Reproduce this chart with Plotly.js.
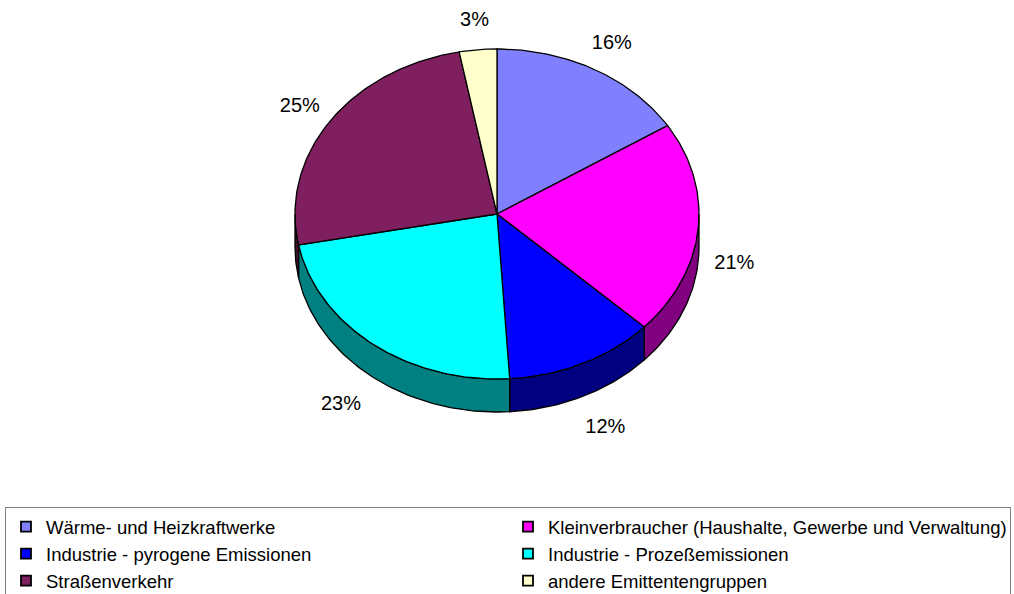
<!DOCTYPE html>
<html><head><meta charset="utf-8">
<script src="https://cdn.plot.ly/plotly-3.0.1.min.js"></script>
<style>html,body{margin:0;padding:0;background:#fff}#chart{width:1014px;height:594px}</style>
</head><body><div id="chart"></div>
<script>
// Data
const categories = ["Wärme- und Heizkraftwerke","Kleinverbraucher (Haushalte, Gewerbe und Verwaltung)","Industrie - pyrogene Emissionen","Industrie - Prozeßemissionen","Straßenverkehr","andere Emittentengruppen"];
const shares = [16, 21, 12, 23, 25, 3];

// Styles
const topColors = ["#8080FF","#FF00FF","#0000FF","#00FFFF","#7F1F5F","#FFFFCC"];
const sideColors = ["#4040A0","#800080","#000080","#008080","#40102F","#A0A080"];
const cx = 497, cy = 214, rx = 202, ry = 165, depth = 33;
const FONT = "Arial, 'Liberation Sans', sans-serif";

const total = shares.reduce((a,b)=>a+b,0);
function pt(deg, dz){ const r = deg*Math.PI/180; return [cx + rx*Math.sin(r), cy - ry*Math.cos(r) + (dz||0)]; }

const traces = [];
let start = 0;
const spans = shares.map(v => { const a = start; start += v/total*360; return [a, start]; });

// side walls (visible front half: 90..270 deg)
spans.forEach((s,i)=>{
  const a = Math.max(s[0], 90), b = Math.min(s[1], 270);
  if (b <= a) return;
  const xs=[], ys=[];
  const n = Math.max(2, Math.ceil((b-a)));
  for (let k=0;k<=n;k++){ const p = pt(a+(b-a)*k/n); xs.push(p[0]); ys.push(p[1]); }
  for (let k=n;k>=0;k--){ const p = pt(a+(b-a)*k/n, depth); xs.push(p[0]); ys.push(p[1]); }
  xs.push(xs[0]); ys.push(ys[0]);
  traces.push({type:'scatter', x:xs, y:ys, mode:'lines', fill:'toself', fillcolor:sideColors[i],
    line:{color:'#000', width:1.3}, showlegend:false, hoverinfo:'skip'});
});

// top faces
spans.forEach((s,i)=>{
  const xs=[cx], ys=[cy];
  const n = Math.max(2, Math.ceil(s[1]-s[0]));
  for (let k=0;k<=n;k++){ const p = pt(s[0]+(s[1]-s[0])*k/n); xs.push(p[0]); ys.push(p[1]); }
  xs.push(cx); ys.push(cy);
  traces.push({type:'scatter', x:xs, y:ys, mode:'lines', fill:'toself', fillcolor:topColors[i],
    line:{color:'#000', width:1.3}, showlegend:false, hoverinfo:'skip'});
});

// labels
const lx=[], ly=[], lt=[];
spans.forEach((s,i)=>{
  const m = (s[0]+s[1])/2, r = m*Math.PI/180;
  const c = Math.cos(r), sn = Math.sin(r);
  lx.push(cx + rx*(c < -0.3 ? 1.26 : 1.18)*sn);
  ly.push(cy - ry*1.2*c + (c < -0.3 ? depth + 2 : (c < 0 ? depth - 2 : 4)));
  lt.push(Math.round(shares[i]/total*100) + "%");
});
traces.push({type:'scatter', x:lx, y:ly, mode:'text', text:lt, textposition:'middle center',
  textfont:{family:FONT, size:20, color:'#000'}, showlegend:false, hoverinfo:'skip'});

// legend entries
categories.forEach((c,i)=>{
  traces.push({type:'scatter', x:[null], y:[null], mode:'markers', name:c,
    marker:{symbol:'square', size:10, color:topColors[i], line:{color:'#000', width:1.8}}});
});

const layout = {
  width:1014, height:594,
  margin:{l:0,r:0,t:0,b:0, autoexpand:false},
  paper_bgcolor:'#fff', plot_bgcolor:'#fff',
  xaxis:{range:[0,1014], visible:false, fixedrange:true},
  yaxis:{range:[594,0], visible:false, fixedrange:true},
  showlegend:true,
  legend:{orientation:'h', x:5/1014, xanchor:'left', y:1-507/594, yanchor:'top',
    entrywidth:457, entrywidthmode:'pixels',
    bordercolor:'#808080', borderwidth:1, bgcolor:'rgba(0,0,0,0)',
    font:{family:FONT, size:18.5, color:'#000'}, itemclick:false, itemdoubleclick:false},
  hovermode:false,
  font:{family:FONT}
};
Plotly.newPlot('chart', traces, layout, {staticPlot:true, displayModeBar:false});
</script></body></html>
